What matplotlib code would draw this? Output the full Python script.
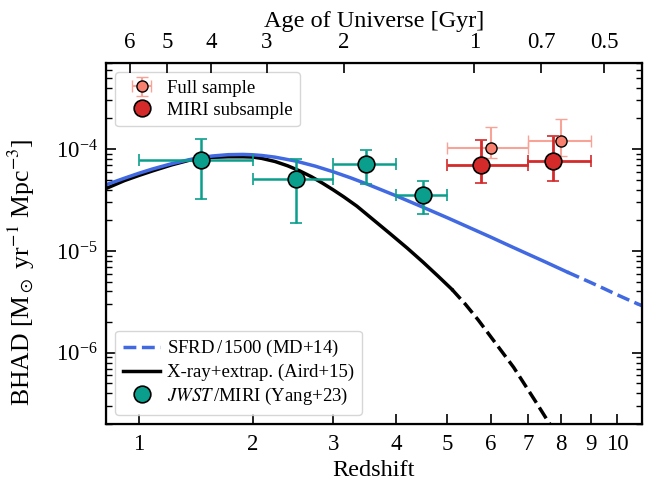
import numpy as np
import matplotlib
matplotlib.use("Agg")
import matplotlib.pyplot as plt
from matplotlib.lines import Line2D

plt.rcParams["font.family"] = "serif"
plt.rcParams["font.serif"] = ["Liberation Serif", "DejaVu Serif"]
plt.rcParams["mathtext.fontset"] = "stix"

# ── data ──────────────────────────────────────────────────────────────────────
# JWST/MIRI (Yang+23)
yang_z = [1.5, 2.5, 3.5, 4.5]
yang_zlo = [1.0, 2.0, 3.0, 4.0]
yang_zhi = [2.0, 3.0, 4.0, 5.0]
yang_y = [7.9e-5, 5.1e-5, 7.2e-5, 3.55e-5]
yang_ylo = [3.2e-5, 1.87e-5, 4.5e-5, 2.3e-5]
yang_yhi = [1.25e-4, 7.95e-5, 9.8e-5, 4.85e-5]

# MIRI subsample
miri_z = [5.77, 7.75]
miri_zlo = [5.0, 7.0]
miri_zhi = [7.0, 9.0]
miri_y = [7.0e-5, 7.7e-5]
miri_ylo = [4.65e-5, 4.85e-5]
miri_yhi = [1.22e-4, 1.34e-4]

# Full sample
full_z = [6.0, 8.0]
full_zlo = [5.0, 7.0]
full_zhi = [7.0, 9.0]
full_y = [1.02e-4, 1.21e-4]
full_ylo = [8.2e-5, 8.5e-5]
full_yhi = [1.66e-4, 1.97e-4]

# SFRD/1500 (MD+14)
md_z = [0.78, 0.9, 1.0, 1.1, 1.25, 1.4, 1.5, 1.6, 1.75, 1.9, 2.0, 2.1, 2.25,
        2.5, 2.75, 3.0, 3.25, 3.5, 4.0, 4.5, 5.0, 5.5, 6.0, 6.5, 7.0, 7.5, 8.2]
md_y = [4.46e-5, 5.17e-5, 5.78e-5, 6.37e-5, 7.19e-5, 7.89e-5, 8.27e-5, 8.55e-5,
        8.81e-5, 8.86e-5, 8.79e-5, 8.65e-5, 8.33e-5, 7.62e-5, 6.80e-5, 5.98e-5,
        5.23e-5, 4.56e-5, 3.48e-5, 2.69e-5, 2.12e-5, 1.69e-5, 1.37e-5, 1.12e-5,
        9.3e-6, 7.82e-6, 6.2e-6]
md_z_ext = [8.2, 9.0, 9.5, 10.0, 10.5, 11.0]
md_y_ext = [6.2e-6, 4.9e-6, 4.25e-6, 3.7e-6, 3.26e-6, 2.9e-6]

# X-ray + extrapolation (Aird+15)
aird_z = [0.78, 0.9, 1.0, 1.1, 1.25, 1.4, 1.5, 1.6, 1.75, 1.9, 2.0, 2.1, 2.25,
          2.4, 2.55, 2.7, 2.85, 3.0, 3.15, 3.35, 3.6, 3.9, 4.2, 4.5, 4.8, 5.1]
aird_y = [4.1e-5, 4.9e-5, 5.5e-5, 6.1e-5, 7.0e-5, 7.8e-5, 8.2e-5, 8.3e-5,
          8.4e-5, 8.4e-5, 8.35e-5, 8.1e-5, 7.55e-5, 6.85e-5, 6.1e-5, 5.35e-5,
          4.62e-5, 3.97e-5, 3.4e-5, 2.75e-5, 2.05e-5, 1.47e-5, 1.07e-5,
          7.8e-6, 5.7e-6, 4.2e-6]
aird_z_ext = [5.1, 5.4, 5.7, 6.2, 6.6, 7.2, 7.6, 7.8]
aird_y_ext = [4.2e-6, 3.0e-6, 2.1e-6, 1.14e-6, 7.2e-7, 3.4e-7, 2.1e-7, 1.7e-7]

# top axis: age of the universe [Gyr]
ages = [6, 5, 4, 3, 2, 1, 0.7, 0.5]
age_labels = ["6", "5", "4", "3", "2", "1", "0.7", "0.5"]

TEAL = "#0a9e8c"
RED = "#d42a2a"
SALMON = "#f7806f"
BLUE = "#4169e1"


def onepz(z):
    return np.asarray(z, dtype=float) + 1.0


def err(z, lo, hi):
    z = np.asarray(z)
    return [z - np.asarray(lo), np.asarray(hi) - z]


def z_of_age(t, H0=70.0, Om=0.3):
    # flat LCDM, inverse of the age-redshift relation
    OL = 1.0 - Om
    tH = 977.8 / H0
    pref = 2.0 * tH / (3.0 * np.sqrt(OL))
    x = np.sinh(np.asarray(t) / pref) / np.sqrt(OL / Om)
    return x ** (-2.0 / 3.0) - 1.0


fig = plt.figure(figsize=(6.57, 4.91), dpi=100)
ax = fig.add_axes([0.1613, 0.1365, 0.8157, 0.7352])

# ── curves ────────────────────────────────────────────────────────────────────
ax.plot(onepz(aird_z), aird_y, color="black", lw=2.5, zorder=2)
ax.plot(onepz(aird_z_ext), aird_y_ext, color="black", lw=2.5, ls="--", zorder=2)
ax.plot(onepz(md_z), md_y, color=BLUE, lw=2.5, zorder=2.5)
ax.plot(onepz(md_z_ext), md_y_ext, color=BLUE, lw=2.5, ls="--", zorder=2.5)

# ── points ────────────────────────────────────────────────────────────────────
ax.errorbar(onepz(yang_z), yang_y, xerr=err(yang_z, yang_zlo, yang_zhi),
            yerr=err(yang_y, yang_ylo, yang_yhi), fmt="o", ms=12,
            mfc=TEAL, mec="black", mew=1.2, ecolor=TEAL, elinewidth=1.8,
            capsize=4, capthick=1.8, zorder=5)

full = ax.errorbar(onepz(full_z), full_y, xerr=err(full_z, full_zlo, full_zhi),
                   yerr=err(full_y, full_ylo, full_yhi), fmt="o", ms=8,
                   mfc=SALMON, mec="black", mew=1.0, ecolor="#f8a398",
                   elinewidth=1.5, capsize=4, capthick=1.5, zorder=4)

ax.errorbar(onepz(miri_z), miri_y, xerr=err(miri_z, miri_zlo, miri_zhi),
            yerr=err(miri_y, miri_ylo, miri_yhi), fmt="o", ms=12,
            mfc=RED, mec="black", mew=1.2, ecolor=RED, elinewidth=2.0,
            capsize=4, capthick=2.0, zorder=4.5)

# ── axes ──────────────────────────────────────────────────────────────────────
ax.set_xscale("log")
ax.set_yscale("log")
ax.set_xlim(1.78, 12.0)
ax.set_ylim(2e-7, 7e-4)

zt = np.arange(1, 11)
ax.set_xticks(onepz(zt))
ax.set_xticklabels([str(v) for v in zt])
ax.xaxis.set_minor_locator(matplotlib.ticker.NullLocator())

ax.tick_params(axis="both", which="both", direction="in", labelsize=16.5)
ax.tick_params(axis="x", which="major", length=7, width=1.2, pad=7)
ax.tick_params(axis="y", which="major", length=7, width=1.2, pad=6,
               right=True)
ax.tick_params(axis="y", which="minor", length=4, width=1.0, right=True)
for s in ax.spines.values():
    s.set_linewidth(1.6)

ax.set_xlabel("Redshift", fontsize=17.5, labelpad=4)
ax.set_ylabel(r"BHAD [M$_\odot$ yr$^{-1}$ Mpc$^{-3}$]", fontsize=18.5)
ax.yaxis.set_label_coords(-0.128, 0.42)

ax_top = ax.twiny()
ax_top.set_xscale("log")
ax_top.set_xlim(ax.get_xlim())
ax_top.set_xticks(onepz(z_of_age(ages)))
ax_top.set_xticklabels(age_labels)
ax_top.xaxis.set_minor_locator(matplotlib.ticker.NullLocator())
ax_top.tick_params(axis="x", which="major", direction="in", length=7,
                   width=1.2, labelsize=16.5, pad=7)
ax_top.set_xlabel("Age of Universe [Gyr]", fontsize=17.5, labelpad=4)

# ── legends ───────────────────────────────────────────────────────────────────
miri_handle = Line2D([], [], ls="none", marker="o", ms=12, mfc=RED,
                     mec="black", mew=1.2)
leg1 = ax.legend([full, miri_handle], ["Full sample", "MIRI subsample"],
                 loc="upper left", fontsize=13.5, labelspacing=0.25,
                 handletextpad=0.35)
leg1.set_zorder(10)
ax.add_artist(leg1)

handles = [
    Line2D([], [], color=BLUE, lw=2.5, ls="--"),
    Line2D([], [], color="black", lw=2.5),
    Line2D([], [], ls="none", marker="o", ms=12, mfc=TEAL, mec="black", mew=1.2),
]
labels = ["SFRD$\\,$/$\\,$1500 (MD+14)", "X-ray+extrap. (Aird+15)",
          r"$\mathit{JWST}$$\,$/MIRI (Yang+23)"]
leg2 = ax.legend(handles, labels, loc="lower left", fontsize=13.5,
                 labelspacing=0.25, handletextpad=0.35)
leg2.set_zorder(10)

fig.savefig("out.png", dpi=100)
